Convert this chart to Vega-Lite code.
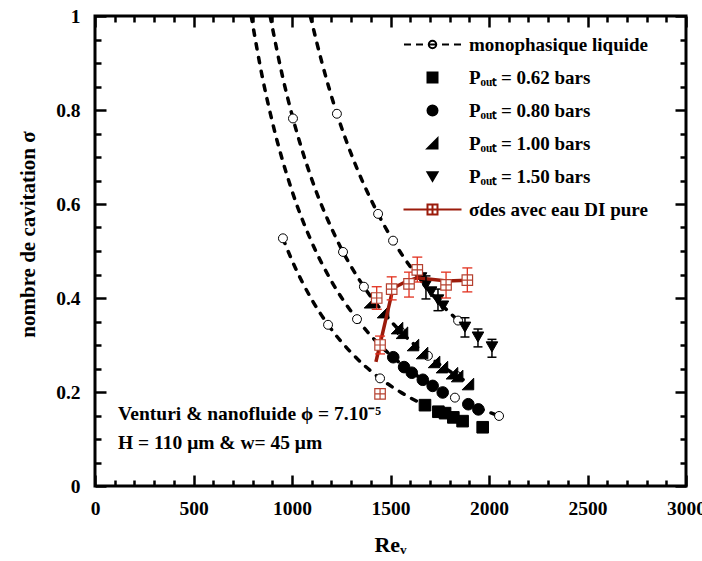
{
 "$schema": "https://vega.github.io/schema/vega-lite/v6.json",
 "width": 591, "height": 470,
 "autosize": {"type": "none"},
 "padding": {"left": 95, "top": 16, "right": 16, "bottom": 75},
 "background": "white",
 "config": {
  "view": {"stroke": "black", "strokeWidth": 3},
  "font": "Liberation Serif",
  "axis": {"grid": false, "domain": false, "tickColor": "black", "tickWidth": 2.5, "labelFont": "Liberation Serif", "labelFontWeight": "bold", "labelFontSize": 19.5, "labelColor": "black", "titleFont": "Liberation Serif", "titleFontWeight": "bold", "titleColor": "black", "labelFlush": false, "labelOverlap": false, "labelBound": false, "offset": 0}
 },
 "datasets": {
  "curves": [
   {"s": "0.62", "Re": 954, "sig": 0.527}, {"s": "0.62", "Re": 1000, "sig": 0.48}, {"s": "0.62", "Re": 1100, "sig": 0.397}, {"s": "0.62", "Re": 1183, "sig": 0.343}, {"s": "0.62", "Re": 1300, "sig": 0.284}, {"s": "0.62", "Re": 1447, "sig": 0.229}, {"s": "0.62", "Re": 1550, "sig": 0.2}, {"s": "0.62", "Re": 1700, "sig": 0.166},
   {"s": "0.80", "Re": 793, "sig": 1.0}, {"s": "0.80", "Re": 850, "sig": 0.869}, {"s": "0.80", "Re": 900, "sig": 0.775}, {"s": "0.80", "Re": 1000, "sig": 0.628}, {"s": "0.80", "Re": 1100, "sig": 0.519}, {"s": "0.80", "Re": 1200, "sig": 0.436}, {"s": "0.80", "Re": 1330, "sig": 0.355}, {"s": "0.80", "Re": 1400, "sig": 0.32}, {"s": "0.80", "Re": 1513, "sig": 0.274}, {"s": "0.80", "Re": 1600, "sig": 0.245}, {"s": "0.80", "Re": 1700, "sig": 0.217}, {"s": "0.80", "Re": 1800, "sig": 0.194}, {"s": "0.80", "Re": 1900, "sig": 0.174}, {"s": "0.80", "Re": 2051, "sig": 0.149},
   {"s": "1.00", "Re": 889, "sig": 1.0}, {"s": "1.00", "Re": 950, "sig": 0.875}, {"s": "1.00", "Re": 1005, "sig": 0.782}, {"s": "1.00", "Re": 1100, "sig": 0.653}, {"s": "1.00", "Re": 1200, "sig": 0.549}, {"s": "1.00", "Re": 1259, "sig": 0.498}, {"s": "1.00", "Re": 1365, "sig": 0.424}, {"s": "1.00", "Re": 1450, "sig": 0.376}, {"s": "1.00", "Re": 1548, "sig": 0.33}, {"s": "1.00", "Re": 1690, "sig": 0.277}, {"s": "1.00", "Re": 1838, "sig": 0.234}, {"s": "1.00", "Re": 1893, "sig": 0.22},
   {"s": "1.50", "Re": 1093, "sig": 1.0}, {"s": "1.50", "Re": 1150, "sig": 0.904}, {"s": "1.50", "Re": 1228, "sig": 0.792}, {"s": "1.50", "Re": 1300, "sig": 0.707}, {"s": "1.50", "Re": 1437, "sig": 0.579}, {"s": "1.50", "Re": 1513, "sig": 0.522}, {"s": "1.50", "Re": 1600, "sig": 0.467}, {"s": "1.50", "Re": 1700, "sig": 0.413}, {"s": "1.50", "Re": 1843, "sig": 0.352}
  ],
  "marks": [
   {"s": "0.62", "Re": 954, "sig": 0.527}, {"s": "0.62", "Re": 1183, "sig": 0.343}, {"s": "0.62", "Re": 1447, "sig": 0.229},
   {"s": "0.80", "Re": 1330, "sig": 0.355}, {"s": "0.80", "Re": 1827, "sig": 0.188}, {"s": "0.80", "Re": 2051, "sig": 0.149},
   {"s": "1.00", "Re": 1005, "sig": 0.782}, {"s": "1.00", "Re": 1259, "sig": 0.498}, {"s": "1.00", "Re": 1365, "sig": 0.424}, {"s": "1.00", "Re": 1548, "sig": 0.33}, {"s": "1.00", "Re": 1690, "sig": 0.277}, {"s": "1.00", "Re": 1838, "sig": 0.234},
   {"s": "1.50", "Re": 1228, "sig": 0.792}, {"s": "1.50", "Re": 1437, "sig": 0.579}, {"s": "1.50", "Re": 1513, "sig": 0.522}, {"s": "1.50", "Re": 1843, "sig": 0.352}
  ],
  "exp": [
   {"s": "0.62", "Re": 1675, "sig": 0.172}, {"s": "0.62", "Re": 1743, "sig": 0.158}, {"s": "0.62", "Re": 1777, "sig": 0.155}, {"s": "0.62", "Re": 1819, "sig": 0.146}, {"s": "0.62", "Re": 1866, "sig": 0.138}, {"s": "0.62", "Re": 1968, "sig": 0.125},
   {"s": "0.80", "Re": 1514, "sig": 0.274}, {"s": "0.80", "Re": 1569, "sig": 0.253}, {"s": "0.80", "Re": 1608, "sig": 0.241}, {"s": "0.80", "Re": 1664, "sig": 0.226}, {"s": "0.80", "Re": 1714, "sig": 0.213}, {"s": "0.80", "Re": 1765, "sig": 0.199}, {"s": "0.80", "Re": 1895, "sig": 0.174}, {"s": "0.80", "Re": 1946, "sig": 0.163},
   {"s": "1.00", "Re": 1396, "sig": 0.391}, {"s": "1.00", "Re": 1462, "sig": 0.37}, {"s": "1.00", "Re": 1533, "sig": 0.336}, {"s": "1.00", "Re": 1558, "sig": 0.326}, {"s": "1.00", "Re": 1614, "sig": 0.3}, {"s": "1.00", "Re": 1660, "sig": 0.283}, {"s": "1.00", "Re": 1721, "sig": 0.264}, {"s": "1.00", "Re": 1761, "sig": 0.253}, {"s": "1.00", "Re": 1812, "sig": 0.24}, {"s": "1.00", "Re": 1838, "sig": 0.234}, {"s": "1.00", "Re": 1893, "sig": 0.217},
   {"s": "1.50", "Re": 1655, "sig": 0.443}, {"s": "1.50", "Re": 1680, "sig": 0.428, "lo": 0.398, "hi": 0.447}, {"s": "1.50", "Re": 1706, "sig": 0.413}, {"s": "1.50", "Re": 1741, "sig": 0.396, "lo": 0.373, "hi": 0.419}, {"s": "1.50", "Re": 1766, "sig": 0.383}, {"s": "1.50", "Re": 1878, "sig": 0.338, "lo": 0.317, "hi": 0.358}, {"s": "1.50", "Re": 1944, "sig": 0.317, "lo": 0.296, "hi": 0.334}, {"s": "1.50", "Re": 2015, "sig": 0.296, "lo": 0.274, "hi": 0.312}
  ],
  "desline": [
   {"Re": 1426, "sig": 0.264}, {"Re": 1513, "sig": 0.421}, {"Re": 1574, "sig": 0.434}, {"Re": 1635, "sig": 0.443}, {"Re": 1787, "sig": 0.436}, {"Re": 1888, "sig": 0.438}
  ],
  "des": [
   {"Re": 1447, "sig": 0.196, "lo": 0.188, "hi": 0.204}, {"Re": 1447, "sig": 0.3, "lo": 0.281, "hi": 0.319}, {"Re": 1430, "sig": 0.4, "lo": 0.376, "hi": 0.424}, {"Re": 1506, "sig": 0.419, "lo": 0.396, "hi": 0.445}, {"Re": 1594, "sig": 0.43, "lo": 0.402, "hi": 0.455}, {"Re": 1636, "sig": 0.46, "lo": 0.434, "hi": 0.487}, {"Re": 1782, "sig": 0.428, "lo": 0.4, "hi": 0.455}, {"Re": 1890, "sig": 0.438, "lo": 0.413, "hi": 0.464}
  ]
 },
 "resolve": {"axis": {"x": "independent", "y": "independent"}},
 "layer": [
  {
   "data": {"name": "curves"},
   "mark": {"type": "line", "color": "black", "strokeWidth": 3.5, "strokeDash": [5.5, 8.5], "strokeCap": "round", "interpolate": "monotone", "clip": true},
   "encoding": {
    "x": {"field": "Re", "type": "quantitative", "scale": {"domain": [0, 3000], "nice": false, "zero": false},
     "axis": {"orient": "bottom", "values": [0, 500, 1000, 1500, 2000, 2500, 3000], "format": "d", "tickSize": -11, "labelPadding": 24, "title": "Reᵥ", "titleFontSize": 22, "titleX": 295, "titleY": 65, "titleBaseline": "alphabetic", "titleAlign": "center", "offset": 0}},
    "y": {"field": "sig", "type": "quantitative", "scale": {"domain": [0, 1], "nice": false, "zero": false},
     "axis": {"orient": "left", "values": [0, 0.2, 0.4, 0.6, 0.8, 1], "format": ".1~f", "tickSize": -11, "labelPadding": 26, "title": "nombre de cavitation σ", "titleFontSize": 21, "titleX": -67, "titleY": 218, "titleAngle": -90, "titleAlign": "center", "titleBaseline": "middle", "offset": 0}},
    "detail": {"field": "s", "type": "nominal"}
   }
  },
  {
   "data": {"name": "marks"},
   "mark": {"type": "point", "shape": "circle", "size": 80, "fill": "white", "stroke": "black", "strokeWidth": 1, "opacity": 1},
   "encoding": {
    "x": {"field": "Re", "type": "quantitative", "axis": {"orient": "top", "values": [0, 500, 1000, 1500, 2000, 2500, 3000], "tickSize": -11, "labels": false, "title": null, "offset": 0}},
    "y": {"field": "sig", "type": "quantitative", "axis": {"orient": "right", "values": [0, 0.2, 0.4, 0.6, 0.8, 1], "tickSize": -11, "labels": false, "title": null, "offset": 0}}
   }
  },
  {
   "data": {"name": "exp"},
   "mark": {"type": "point", "size": 135, "strokeWidth": 1, "opacity": 1},
   "encoding": {
    "x": {"field": "Re", "type": "quantitative", "axis": {"orient": "bottom", "values": [100, 200, 300, 400, 600, 700, 800, 900, 1100, 1200, 1300, 1400, 1600, 1700, 1800, 1900, 2100, 2200, 2300, 2400, 2600, 2700, 2800, 2900], "tickSize": -6, "labels": false, "title": null, "offset": 0}},
    "y": {"field": "sig", "type": "quantitative", "axis": {"orient": "left", "values": [0.05, 0.1, 0.15, 0.25, 0.3, 0.35, 0.45, 0.5, 0.55, 0.65, 0.7, 0.75, 0.85, 0.9, 0.95], "tickSize": -6, "labels": false, "title": null, "offset": 0}},
    "shape": {"field": "s", "type": "nominal",
     "scale": {"domain": ["mono", "0.62", "0.80", "1.00", "1.50", "des"], "range": ["M-5.7,0H-4.3M-3.3,0H-1.9M-0.75,0A0.75,0.75,0,1,0,0.75,0A0.75,0.75,0,1,0,-0.75,0ZM-0.75,0H0.75M1.9,0H3.3M4.3,0H5.7", "square", "circle", "M-1,1L1,1L1,-1Z", "triangle-down", "M-5.8,0H-1M1,0H5.8M-1,-1H1V1H-1ZM0,-1V1M-1,0H1"]},
     "legend": {"title": null, "orient": "none", "legendX": 324, "legendY": 15, "symbolSize": 100, "symbolStrokeWidth": 2, "labelFont": "Liberation Serif", "labelFontWeight": "bold", "labelFontSize": 19, "labelColor": "black", "labelOffset": 27, "labelLimit": 400, "rowPadding": 13, "fillColor": "white", "padding": 4,
      "labelExpr": "datum.label == 'mono' ? 'monophasique liquide' : datum.label == 'des' ? 'σdes avec eau DI pure' : 'Pₒᵤₜ = ' + datum.label + ' bars'",
      "encode": {"labels": {"fill": {"condition": {"test": "datum.value == 'des'", "value": "#9b1b0b"}, "value": "black"}}}}},
    "fill": {"field": "s", "type": "nominal",
     "scale": {"domain": ["mono", "0.62", "0.80", "1.00", "1.50", "des"], "range": ["white", "black", "black", "black", "black", "white"]},
     "legend": {"title": null, "orient": "none", "legendX": 324, "legendY": 15, "symbolSize": 100, "symbolStrokeWidth": 2, "labelFont": "Liberation Serif", "labelFontWeight": "bold", "labelFontSize": 19, "labelColor": "black", "labelOffset": 27, "labelLimit": 400, "rowPadding": 13, "fillColor": "white", "padding": 4,
      "labelExpr": "datum.label == 'mono' ? 'monophasique liquide' : datum.label == 'des' ? 'σdes avec eau DI pure' : 'Pₒᵤₜ = ' + datum.label + ' bars'",
      "encode": {"labels": {"fill": {"condition": {"test": "datum.value == 'des'", "value": "#9b1b0b"}, "value": "black"}}}}},
    "stroke": {"field": "s", "type": "nominal",
     "scale": {"domain": ["mono", "0.62", "0.80", "1.00", "1.50", "des"], "range": ["black", "black", "black", "black", "black", "#9b1b0b"]},
     "legend": {"title": null, "orient": "none", "legendX": 324, "legendY": 15, "symbolSize": 100, "symbolStrokeWidth": 2, "labelFont": "Liberation Serif", "labelFontWeight": "bold", "labelFontSize": 19, "labelColor": "black", "labelOffset": 27, "labelLimit": 400, "rowPadding": 13, "fillColor": "white", "padding": 4,
      "labelExpr": "datum.label == 'mono' ? 'monophasique liquide' : datum.label == 'des' ? 'σdes avec eau DI pure' : 'Pₒᵤₜ = ' + datum.label + ' bars'",
      "encode": {"labels": {"fill": {"condition": {"test": "datum.value == 'des'", "value": "#9b1b0b"}, "value": "black"}}}}}
   }
  },
  {
   "data": {"name": "desline"},
   "mark": {"type": "line", "color": "#9b1b0b", "strokeWidth": 3.5},
   "encoding": {
    "x": {"field": "Re", "type": "quantitative", "axis": {"orient": "top", "values": [100, 200, 300, 400, 600, 700, 800, 900, 1100, 1200, 1300, 1400, 1600, 1700, 1800, 1900, 2100, 2200, 2300, 2400, 2600, 2700, 2800, 2900], "tickSize": -6, "labels": false, "title": null, "offset": 0}},
    "y": {"field": "sig", "type": "quantitative", "axis": {"orient": "right", "values": [0.05, 0.1, 0.15, 0.25, 0.3, 0.35, 0.45, 0.5, 0.55, 0.65, 0.7, 0.75, 0.85, 0.9, 0.95], "tickSize": -6, "labels": false, "title": null, "offset": 0}}
   }
  },
  {
   "data": {"name": "exp"},
   "transform": [{"filter": "isValid(datum.lo)"}],
   "mark": {"type": "rule", "color": "black", "strokeWidth": 1.5},
   "encoding": {"x": {"field": "Re", "type": "quantitative", "axis": null}, "y": {"field": "lo", "type": "quantitative", "axis": null}, "y2": {"field": "hi"}}
  },
  {
   "data": {"name": "exp"},
   "transform": [{"filter": "isValid(datum.lo)"}],
   "mark": {"type": "tick", "orient": "horizontal", "size": 9, "thickness": 1.5, "color": "black", "opacity": 1},
   "encoding": {"x": {"field": "Re", "type": "quantitative", "axis": null}, "y": {"field": "lo", "type": "quantitative", "axis": null}}
  },
  {
   "data": {"name": "exp"},
   "transform": [{"filter": "isValid(datum.lo)"}],
   "mark": {"type": "tick", "orient": "horizontal", "size": 9, "thickness": 1.5, "color": "black", "opacity": 1},
   "encoding": {"x": {"field": "Re", "type": "quantitative", "axis": null}, "y": {"field": "hi", "type": "quantitative", "axis": null}}
  },
  {
   "data": {"name": "des"},
   "mark": {"type": "rule", "color": "#e2301e", "strokeWidth": 1.3},
   "encoding": {"x": {"field": "Re", "type": "quantitative", "axis": null}, "y": {"field": "lo", "type": "quantitative", "axis": null}, "y2": {"field": "hi"}}
  },
  {
   "data": {"name": "des"},
   "mark": {"type": "tick", "orient": "horizontal", "size": 10, "thickness": 1.3, "color": "#e2301e", "opacity": 1},
   "encoding": {"x": {"field": "Re", "type": "quantitative", "axis": null}, "y": {"field": "lo", "type": "quantitative", "axis": null}}
  },
  {
   "data": {"name": "des"},
   "mark": {"type": "tick", "orient": "horizontal", "size": 10, "thickness": 1.3, "color": "#e2301e", "opacity": 1},
   "encoding": {"x": {"field": "Re", "type": "quantitative", "axis": null}, "y": {"field": "hi", "type": "quantitative", "axis": null}}
  },
  {
   "data": {"name": "des"},
   "mark": {"type": "point", "shape": "M-1,-1H1V1H-1ZM0,-1V1M-1,0H1", "size": 110, "fill": "white", "stroke": "#b5402f", "strokeWidth": 1.2, "opacity": 1},
   "encoding": {"x": {"field": "Re", "type": "quantitative", "axis": null}, "y": {"field": "sig", "type": "quantitative", "axis": null}}
  },
  {
   "data": {"values": [{}]},
   "mark": {"type": "text", "align": "left", "baseline": "middle", "font": "Liberation Serif", "fontWeight": "bold", "fontSize": 19.5, "color": "black"},
   "encoding": {"x": {"datum": 117, "type": "quantitative", "axis": null}, "y": {"datum": 0.153, "type": "quantitative", "axis": null}, "text": {"value": "Venturi & nanofluide ϕ = 7.10⁻⁵"}}
  },
  {
   "data": {"values": [{}]},
   "mark": {"type": "text", "align": "left", "baseline": "middle", "font": "Liberation Serif", "fontWeight": "bold", "fontSize": 19.5, "color": "black"},
   "encoding": {"x": {"datum": 117, "type": "quantitative", "axis": null}, "y": {"datum": 0.0915, "type": "quantitative", "axis": null}, "text": {"value": "H = 110 μm & w= 45 μm"}}
  }
 ]
}
